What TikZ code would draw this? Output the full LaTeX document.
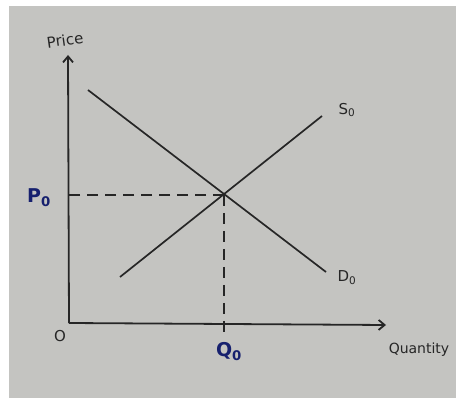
\documentclass[tikz,border=0pt]{standalone}
\usepackage{fontspec}
\setmainfont{DejaVu Sans}
\usetikzlibrary{arrows.meta}
\definecolor{paper}{RGB}{196,196,193}
\definecolor{ink}{RGB}{38,38,38}
\definecolor{bluink}{RGB}{22,32,110}
\tikzset{
  axis/.style={draw=ink, line width=1.8pt, -{Straight Barb[length=6pt,width=10pt]}},
  curve/.style={draw=ink, line width=1.7pt},
  guide/.style={draw=ink, line width=1.3pt, dash pattern=on 11pt off 7pt},
  lbl/.style={text=ink, font=\fontsize{15}{15}\selectfont, inner sep=0pt},
  bl/.style={text=bluink, font=\bfseries\fontsize{19}{19}\selectfont, inner sep=0pt}
}
\begin{document}
\begin{tikzpicture}[x=1pt,y=-1pt]
\useasboundingbox (0,0) rectangle (456,398);
\fill[white] (0,0) rectangle (456,398);
\fill[paper] (9,6) rectangle (456,398);
\coordinate (O) at (69,323);
\coordinate (ytop) at (68,55);
\coordinate (xend) at (386,325);
\coordinate (d1) at (88,90);
\coordinate (d2) at (326,272);
\coordinate (s1) at (120,277);
\coordinate (s2) at (322,116);
\coordinate (E) at (224,195);
\coordinate (Py) at (69,195);
\coordinate (Qx) at (224,332);
\draw[axis] (O) -- (ytop);
\draw[axis] (O) -- (xend);
\draw[curve] (d1) -- (d2);
\draw[curve] (s1) -- (s2);
\draw[guide] (E) -- (Py);
\draw[guide] (E) -- (Qx);
\node[lbl, rotate=8] (price) at (65,40) {Price};
\node[lbl] (olab) at (60,336) {O};
\node[lbl] (slab) at (347,110) {S\textsubscript{0}};
\node[lbl] (dlab) at (347,278) {D\textsubscript{0}};
\node[lbl, font=\fontsize{14}{14}\selectfont] (qlab) at (419,350) {Quantity};
\node[bl] (plab) at (39,198) {P\textsubscript{0}};
\node[bl] (qolab) at (229,352) {Q\textsubscript{0}};
\end{tikzpicture}
\end{document}
